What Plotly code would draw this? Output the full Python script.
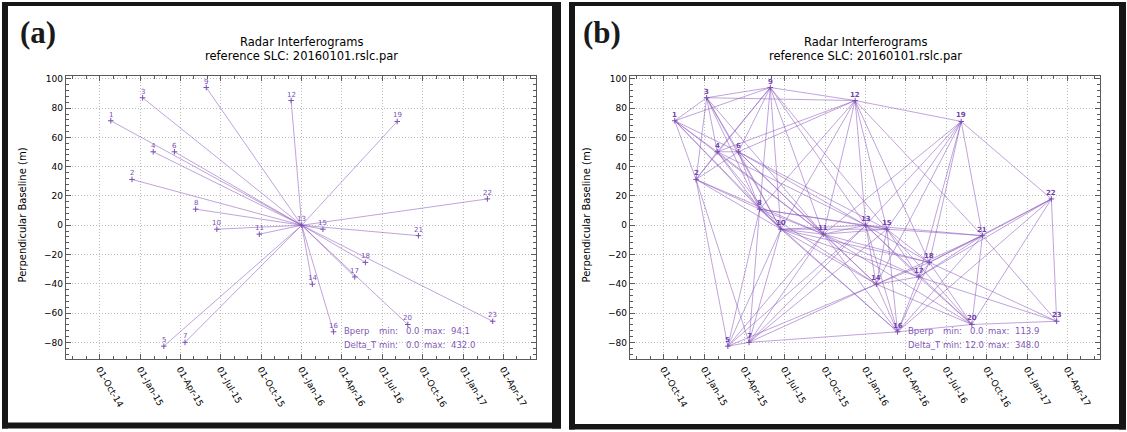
import plotly.graph_objects as go

# Acquisition list: image number, acquisition date, perpendicular baseline (m)
scene_ids = list(range(1, 24))
acq_dates = [
    "2014-10-26", "2014-12-13", "2015-01-06", "2015-01-30", "2015-02-23",
    "2015-03-19", "2015-04-12", "2015-05-06", "2015-05-30", "2015-06-23",
    "2015-09-27", "2015-12-08", "2016-01-01", "2016-01-25", "2016-02-18",
    "2016-03-13", "2016-04-30", "2016-05-24", "2016-08-04", "2016-08-28",
    "2016-09-21", "2017-02-24", "2017-03-08",
]
bperp = [
    71.4, 31.3, 87.1, 50.2, -82.6, 50.2, -80.0, 11.0, 94.1, -2.7,
    -6.1, 85.2, 0.0, -40.3, -2.7, -72.8, -35.3, -25.4, 70.9, -67.8,
    -7.1, 18.0, -65.6,
]

# (a) single-reference network: every scene paired with scene 13
star_pairs = [(13, 1), (13, 2), (13, 3), (13, 4), (13, 5), (13, 6), (13, 7),
              (13, 8), (13, 9), (13, 10), (13, 11), (13, 12), (13, 14),
              (13, 15), (13, 16), (13, 17), (13, 18), (13, 19), (13, 20),
              (13, 21), (13, 22), (13, 23)]

# (b) small-baseline network
sbas_pairs = [
    (1, 2), (1, 3), (1, 4), (1, 6), (1, 8), (1, 9), (1, 10), (1, 11),
    (2, 3), (2, 4), (2, 5), (2, 6), (2, 7), (2, 8), (2, 9), (2, 10), (2, 11),
    (3, 4), (3, 6), (3, 8), (3, 9), (3, 10), (3, 11), (3, 12),
    (4, 6), (4, 8), (4, 9), (4, 10), (4, 11), (4, 12), (4, 13),
    (5, 7), (5, 8), (5, 10), (5, 11), (5, 13), (5, 14),
    (6, 8), (6, 9), (6, 10), (6, 11), (6, 12), (6, 13), (6, 14), (6, 15),
    (7, 8), (7, 10), (7, 11), (7, 13), (7, 14), (7, 15), (7, 16),
    (8, 9), (8, 10), (8, 11), (8, 12), (8, 13), (8, 14), (8, 15), (8, 16),
    (9, 10), (9, 11), (9, 12), (9, 13), (9, 15),
    (10, 11), (10, 12), (10, 13), (10, 14), (10, 15), (10, 16), (10, 17), (10, 18),
    (11, 12), (11, 13), (11, 14), (11, 15), (11, 16), (11, 17), (11, 18), (11, 19), (11, 20),
    (12, 13), (12, 15), (12, 18), (12, 19), (12, 21),
    (13, 14), (13, 15), (13, 16), (13, 17), (13, 18), (13, 19), (13, 20), (13, 21),
    (14, 15), (14, 16), (14, 17), (14, 18), (14, 19), (14, 20), (14, 21),
    (15, 16), (15, 17), (15, 18), (15, 19), (15, 20), (15, 21),
    (16, 17), (16, 18), (16, 20), (16, 21), (16, 22),
    (17, 18), (17, 19), (17, 20), (17, 21), (17, 22), (17, 23),
    (18, 19), (18, 20), (18, 21), (18, 22), (18, 23),
    (19, 21), (19, 22),
    (20, 21), (20, 22), (20, 23),
    (21, 22), (21, 23),
    (22, 23),
]

panel_tags = ["(a)", "(b)"]
title_lines = ["Radar Interferograms", "reference SLC: 20160101.rslc.par"]
y_title = "Perpendicular Baseline (m)"
stats_a = [("Bperp", "0.0", "94.1"), ("Delta_T", "0.0", "432.0")]
stats_b = [("Bperp", "0.0", "113.9"), ("Delta_T", "12.0", "348.0")]

W, H = 1127, 432
LINE_CLR = "rgba(140, 90, 190, 0.55)"
PT_CLR = "#7a50b6"
TXT_CLR = "#8458b8"
AX_CLR = "#5a5a5a"


def px(x):
    return x / W


def py(y):
    return 1 - y / H


fig = go.Figure()

date_of = dict(zip(scene_ids, acq_dates))
bp_of = dict(zip(scene_ids, bperp))

panels = [
    dict(pairs=star_pairs, xa="x", ya="y", off=0, stats=stats_a, bold=False),
    dict(pairs=sbas_pairs, xa="x2", ya="y2", off=564, stats=stats_b, bold=True),
]

annotations = []
shapes = []


def text_note(x, y, txt, anchor, size=8.5, color=TXT_CLR):
    return dict(x=px(x), y=py(y), xref="paper", yref="paper", text=txt,
                showarrow=False, xanchor=anchor, yanchor="middle",
                borderpad=0,
                font=dict(family="DejaVu Sans", size=size, color=color))


for k, p in enumerate(panels):
    for a, b in p["pairs"]:
        fig.add_trace(go.Scatter(
            x=[date_of[a], date_of[b]], y=[bp_of[a], bp_of[b]],
            mode="lines", line=dict(color=LINE_CLR, width=1),
            xaxis=p["xa"], yaxis=p["ya"], hoverinfo="skip", showlegend=False))
    fig.add_trace(go.Scatter(
        x=acq_dates, y=bperp, mode="markers",
        marker=dict(symbol="cross-thin", size=4,
                    line=dict(color=PT_CLR, width=1)),
        xaxis=p["xa"], yaxis=p["ya"], hoverinfo="skip", showlegend=False))
    for sid, d, b in zip(scene_ids, acq_dates, bperp):
        annotations.append(dict(
            x=d, y=b, xref=p["xa"], yref=p["ya"], text=str(sid),
            showarrow=False, yshift=6, yanchor="middle",
            font=dict(family="DejaVu Sans", size=7,
                      color="#6f42ad" if p["bold"] else PT_CLR,
                      weight="bold" if p["bold"] else "normal")))

    o = p["off"]
    # panel tag
    annotations.append(dict(
        x=px(38 + o), y=py(31), xref="paper", yref="paper",
        text="<b>%s</b>" % panel_tags[k], showarrow=False,
        xanchor="center", yanchor="middle",
        font=dict(family="Liberation Serif", size=31, color="#1a1a1a")))
    # title
    for t, yy in zip(title_lines, [40.5, 54]):
        annotations.append(text_note(301 + o, yy, t, "center", 11.5, "black"))
    # y axis title
    annotations.append(dict(
        x=px(22.5 + o), y=py(214), xref="paper", yref="paper", text=y_title,
        textangle=-90, showarrow=False, xanchor="center", yanchor="middle",
        font=dict(family="DejaVu Sans", size=10, color="black")))
    # statistics block
    for (name, vmin, vmax), yy in zip(p["stats"], [330.7, 345]):
        annotations.append(text_note(343.3 + o, yy, name, "left"))
        annotations.append(text_note(377.5 + o, yy, "min:", "left"))
        annotations.append(text_note(420.5 + o, yy, vmin, "right"))
        annotations.append(text_note(423 + o, yy, "max:", "left"))
        annotations.append(text_note(450 + o, yy, vmax, "left"))

# black frames around the two panels
frames = [
    (2, 0, 561, 428.5, 6, 4, 9, 6),
    (569, 0, 1126, 429.5, 6, 4, 7, 5.5),
]
for x0, y0, x1, y1, lw, tw, rw, bw in frames:
    for rx0, ry0, rx1, ry1 in [
        (x0, y0, x1, y0 + tw), (x0, y1 - bw, x1, y1),
        (x0, y0, x0 + lw, y1), (x1 - rw, y0, x1, y1)]:
        shapes.append(dict(type="rect", xref="paper", yref="paper",
                           x0=px(rx0), x1=px(rx1), y0=py(ry1), y1=py(ry0),
                           fillcolor="#161616", line=dict(width=0)))

grid_style = dict(showgrid=True, gridcolor="#bdbdbd", griddash="1px,2px",
                  gridwidth=1)
x_common = dict(
    type="date", range=["2014-07-16", "2017-06-14"],
    tickformat="%d-%b-%y", dtick="M3", tick0="2014-10-01", tickangle=60,
    ticks="inside", ticklen=5, tickcolor=AX_CLR, tickwidth=1,
    showline=True, linecolor=AX_CLR, linewidth=1, mirror="allticks",
    zeroline=False,
    minor=dict(dtick="M1", ticks="inside", ticklen=3, tickcolor=AX_CLR,
               showgrid=False),
    tickfont=dict(family="DejaVu Sans", size=9, color="black"),
    **grid_style,
)
y_common = dict(
    range=[-91.6, 102.2], dtick=20, tick0=0,
    ticks="inside", ticklen=5, tickcolor=AX_CLR, tickwidth=1,
    showline=True, linecolor=AX_CLR, linewidth=1, mirror="allticks",
    zeroline=False,
    minor=dict(dtick=4, ticks="inside", ticklen=3, tickcolor=AX_CLR,
               showgrid=False),
    tickfont=dict(family="DejaVu Sans", size=9, color="black"),
    **grid_style,
)

y_dom = [py(359), py(74)]
fig.update_layout(
    width=W, height=H, autosize=False,
    margin=dict(l=0, r=0, t=0, b=0),
    paper_bgcolor="white", plot_bgcolor="white",
    xaxis=dict(domain=[px(65.7), px(536)], anchor="y", **x_common),
    yaxis=dict(domain=y_dom, anchor="x", **y_common),
    xaxis2=dict(domain=[px(629.7), px(1100)], anchor="y2", **x_common),
    yaxis2=dict(domain=y_dom, anchor="x2", **y_common),
    annotations=annotations,
    shapes=shapes,
)

fig.write_html("out.html")
